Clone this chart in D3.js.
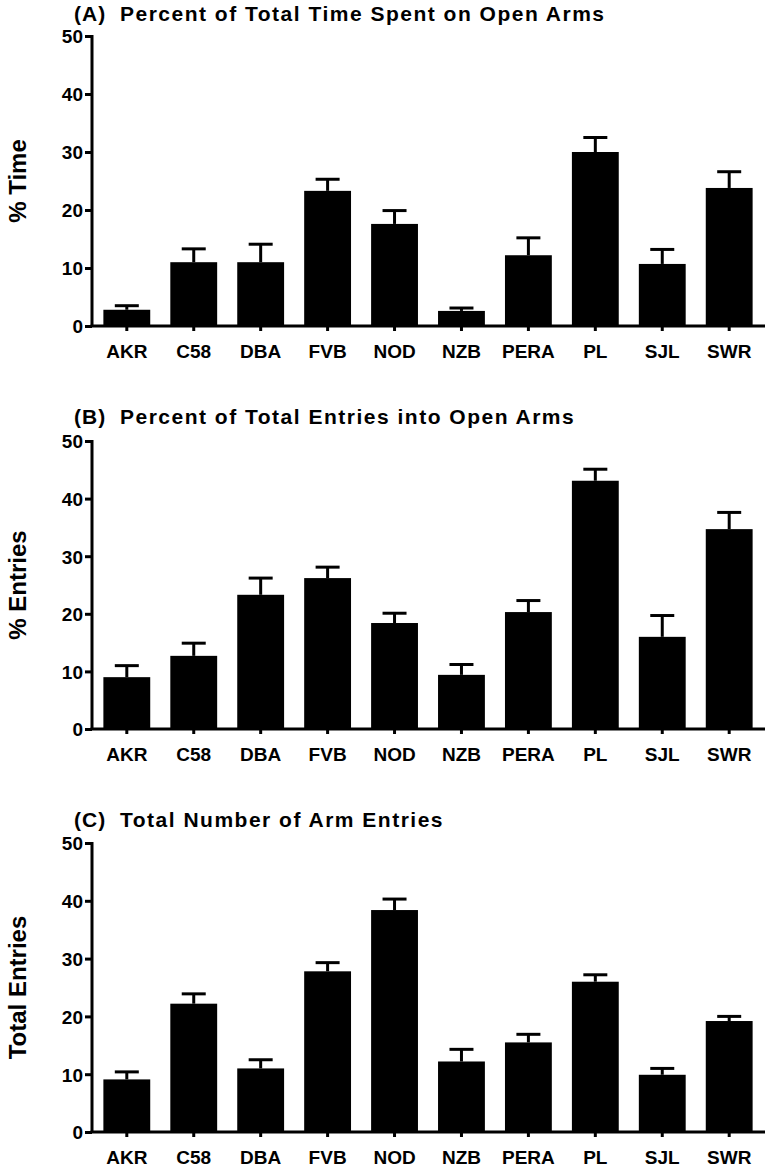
<!DOCTYPE html>
<html>
<head>
<meta charset="utf-8">
<script src="https://cdn.jsdelivr.net/npm/d3@7"></script>
<style>
  html, body { margin: 0; padding: 0; background: #fff; }
  svg { display: block; }
  text { font-family: "Liberation Sans", Arial, Helvetica, sans-serif; font-weight: bold; fill: #000; }
</style>
</head>
<body>
<svg id="chart" width="771" height="1173"></svg>
<script>
const strains = ["AKR", "C58", "DBA", "FVB", "NOD", "NZB", "PERA", "PL", "SJL", "SWR"];
const yTicks = [0, 10, 20, 30, 40, 50];

const timeMean = [2.8, 11.0, 11.0, 23.3, 17.6, 2.6, 12.2, 30.0, 10.7, 23.8];
const timeSem  = [0.7, 2.3, 3.1, 2.0, 2.3, 0.5, 3.0, 2.5, 2.5, 2.8];

const entryPctMean = [9.0, 12.7, 23.3, 26.2, 18.4, 9.4, 20.3, 43.1, 16.0, 34.7];
const entryPctSem  = [2.0, 2.2, 2.9, 1.9, 1.7, 1.8, 2.0, 2.0, 3.7, 2.9];

const totalMean = [9.1, 22.2, 11.0, 27.8, 38.4, 12.2, 15.5, 26.0, 9.9, 19.2];
const totalSem  = [1.3, 1.7, 1.5, 1.5, 1.9, 2.1, 1.4, 1.2, 1.1, 0.8];

const panelLetters = ["(A)", "(B)", "(C)"];
const panelTitles = ["Percent of Total Time Spent on Open Arms",
                     "Percent of Total Entries into Open Arms",
                     "Total Number of Arm Entries"];
const yLabels = ["% Time", "% Entries", "Total Entries"];

const panels = [
  { mean: timeMean, sem: timeSem, titleY: 21, top: 36, bottom: 326 },
  { mean: entryPctMean, sem: entryPctSem, titleY: 424, top: 441, bottom: 729 },
  { mean: totalMean, sem: totalSem, titleY: 827, top: 843, bottom: 1132 }
];

const svg = d3.select("#chart");
const axisX = 92, rightX = 765;

const x = d3.scaleBand().domain(strains).range([axisX, 764]).paddingInner(0.3).paddingOuter(0.17);

panels.forEach((p, k) => {
  const y = d3.scaleLinear().domain([0, 50]).range([p.bottom, p.top]);
  const g = svg.append("g");

  // titles
  g.append("text").attr("x", 74).attr("y", p.titleY)
    .style("font-size", "21px").style("letter-spacing", "1px").text(panelLetters[k]);
  g.append("text").attr("x", 120).attr("y", p.titleY)
    .style("font-size", "21px").style("letter-spacing", "1.5px").text(panelTitles[k]);

  // y label
  g.append("text")
    .attr("transform", `translate(26,${(p.top + p.bottom) / 2}) rotate(-90)`)
    .attr("text-anchor", "middle")
    .style("font-size", "24px")
    .text(yLabels[k]);

  // bars
  const data = strains.map((s, i) => ({ s, m: p.mean[i], e: p.sem[i] }));
  g.selectAll("rect.bar").data(data).enter().append("rect")
    .attr("class", "bar")
    .attr("x", d => x(d.s))
    .attr("width", x.bandwidth())
    .attr("y", d => y(d.m))
    .attr("height", d => y(0) - y(d.m))
    .attr("fill", "#000");

  // error bars
  g.selectAll("line.err").data(data).enter().append("line")
    .attr("x1", d => x(d.s) + x.bandwidth() / 2)
    .attr("x2", d => x(d.s) + x.bandwidth() / 2)
    .attr("y1", d => y(d.m))
    .attr("y2", d => y(d.m + d.e))
    .attr("stroke", "#000").attr("stroke-width", 3);
  g.selectAll("line.cap").data(data).enter().append("line")
    .attr("x1", d => x(d.s) + x.bandwidth() / 2 - 12)
    .attr("x2", d => x(d.s) + x.bandwidth() / 2 + 12)
    .attr("y1", d => y(d.m + d.e))
    .attr("y2", d => y(d.m + d.e))
    .attr("stroke", "#000").attr("stroke-width", 3);

  // y axis
  const yAxis = d3.axisLeft(y).tickValues(yTicks).tickSize(7).tickPadding(2).tickFormat(d3.format("d"));
  const ya = g.append("g").attr("transform", `translate(${axisX},0)`).call(yAxis);
  ya.select(".domain").attr("stroke", "#000").attr("stroke-width", 3).attr("d", `M0,${p.top - 1}V${p.bottom}`);
  ya.selectAll(".tick line").attr("stroke", "#000").attr("stroke-width", 3);
  ya.selectAll(".tick text").style("font-size", "19px").style("font-family", "'Liberation Sans', Arial, sans-serif").style("font-weight", "bold").attr("dy", "0.36em");

  // x axis
  const xAxis = d3.axisBottom(x).tickSize(5).tickPadding(14);
  const xa = g.append("g").attr("transform", `translate(0,${p.bottom})`).call(xAxis);
  xa.select(".domain").attr("stroke", "#000").attr("stroke-width", 3).attr("d", `M${axisX - 1.5},0H${rightX}`);
  xa.selectAll(".tick line").attr("stroke", "#000").attr("stroke-width", 3);
  xa.selectAll(".tick text").style("font-size", "19px").style("font-family", "'Liberation Sans', Arial, sans-serif").style("font-weight", "bold");
});
</script>
</body>
</html>
